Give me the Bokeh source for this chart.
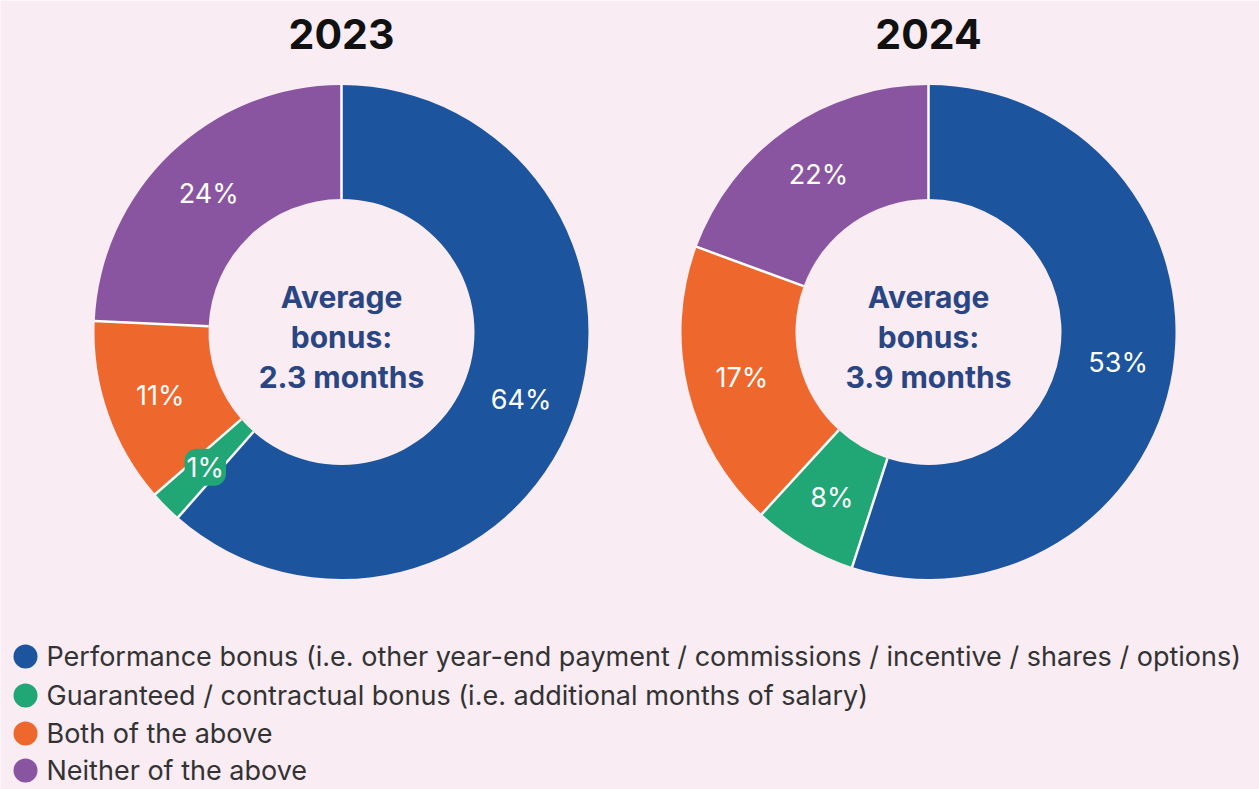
import numpy as np
from bokeh.plotting import figure
from bokeh.models import Range1d, ColumnDataSource
from bokeh.core.properties import value
from bokeh.embed import file_html
from bokeh.resources import INLINE

# ---- data ----
categories = [
    "Performance bonus (i.e. other year-end payment / commissions / incentive / shares / options)",
    "Guaranteed / contractual bonus (i.e. additional months of salary)",
    "Both of the above",
    "Neither of the above",
]
colors = ["#1D549E", "#21A675", "#EE672C", "#8A55A0"]
years = ["2023", "2024"]
share_2023 = [61.5, 2.1, 12.1, 24.3]
share_2024 = [55.0, 6.8, 18.8, 19.4]
labels_2023 = ["64%", "1%", "11%", "24%"]
labels_2024 = ["53%", "8%", "17%", "22%"]
avg_bonus = ["2.3 months", "3.9 months"]

# ---- layout (page pixel space) ----
W, H = 1259, 789
BG = "#F9ECF3"
FONT = "Inter"
centers_x = [341, 928]
center_py = 331.5
R_OUT, R_IN, R_LAB = 247, 133, 192


def Y(py):
    return H - py


p = figure(width=W, height=H, output_backend="svg", toolbar_location=None,
           x_range=Range1d(0, W), y_range=Range1d(0, H),
           min_border=0, background_fill_color=BG, border_fill_color=BG)
p.axis.visible = False
p.grid.visible = False
p.outline_line_color = None

shares_all = [share_2023, share_2024]
labels_all = [labels_2023, labels_2024]

for i, year in enumerate(years):
    cx, cy = centers_x[i], Y(center_py)
    s = np.array(shares_all[i], dtype=float)
    frac = s / s.sum()
    cum = np.concatenate([[0], np.cumsum(frac)])
    start = np.pi / 2 - 2 * np.pi * cum[:-1]
    end = np.pi / 2 - 2 * np.pi * cum[1:]
    src = ColumnDataSource(dict(start=start, end=end, color=colors))
    p.annular_wedge(x=cx, y=cy, inner_radius=R_IN, outer_radius=R_OUT,
                    start_angle="start", end_angle="end", direction="clock",
                    fill_color="color", line_color=None, source=src)
    # white separators
    ang = np.pi / 2 - 2 * np.pi * cum[:-1]
    p.segment(x0=cx + R_IN * np.cos(ang), y0=cy + R_IN * np.sin(ang),
              x1=cx + (R_OUT + 0.5) * np.cos(ang), y1=cy + (R_OUT + 0.5) * np.sin(ang),
              line_color="white", line_width=2.5)
    # labels
    mid = np.pi / 2 - 2 * np.pi * (cum[:-1] + cum[1:]) / 2
    lx = cx + R_LAB * np.cos(mid)
    ly = cy + R_LAB * np.sin(mid)
    for k in range(len(categories)):
        small = frac[k] < 0.04
        p.text(x=[lx[k]], y=[ly[k]], text=[labels_all[i][k]],
               text_font=value(FONT), text_font_size="27px", text_color="white",
               text_align="center", text_baseline="middle",
               background_fill_color=colors[k] if small else None,
               border_radius=12 if small else 0,
               padding=2 if small else 0)
    # title
    p.text(x=[cx], y=[Y(33)], text=[year], text_font=value(FONT),
           text_font_size="41px", text_font_style="bold", text_color="#111111",
           text_align="center", text_baseline="middle")
    # center text
    for j, line in enumerate(["Average", "bonus:", avg_bonus[i]]):
        p.text(x=[cx], y=[Y(296 + 40 * j)], text=[line], text_font=value(FONT),
               text_font_size="30px", text_font_style="bold", text_color="#2A4583",
               text_align="center", text_baseline="middle")

# legend
leg_py = [656, 695, 733, 770]
p.scatter(x=[25] * 4, y=[Y(v) for v in leg_py], size=24, marker="circle",
          fill_color=colors, line_color=None)
p.text(x=[46] * 4, y=[Y(v) for v in leg_py], text=categories, text_font=value(FONT),
       text_font_size="27px", text_color="#333333", text_align="left",
       text_baseline="middle")

open("out.html", "w").write(file_html(p, INLINE))
